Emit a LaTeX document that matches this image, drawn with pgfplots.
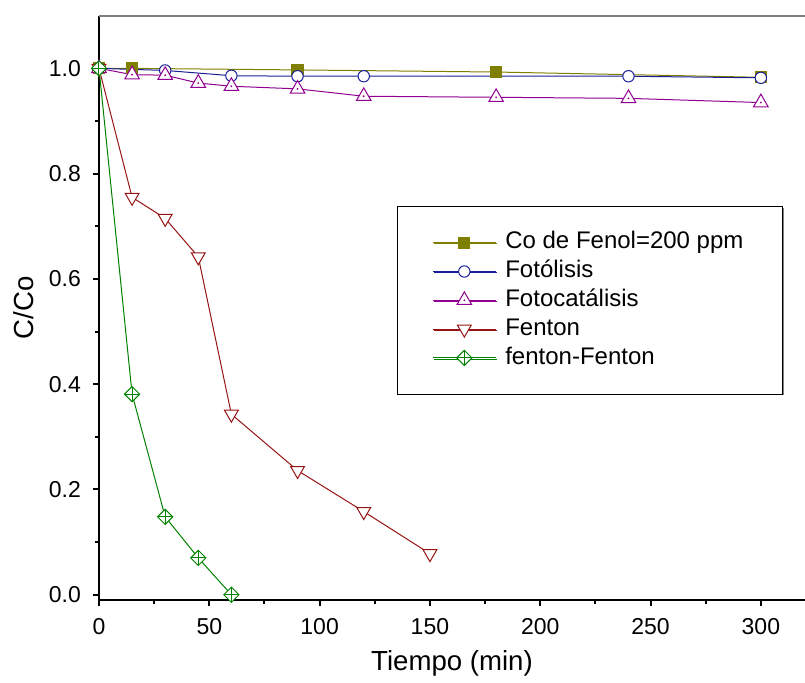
\documentclass[border=0pt]{standalone}
\usepackage{pgfplots}
\pgfplotsset{compat=1.18}
\usepackage{fontspec}
\setmainfont{Liberation Sans}
\usetikzlibrary{shadows}

\definecolor{cOlive}{RGB}{128,128,0}
\definecolor{cNavy}{RGB}{25,30,150}
\definecolor{cPurp}{RGB}{145,0,145}
\definecolor{cRed}{RGB}{150,20,20}
\definecolor{cGreen}{RGB}{0,130,0}

% diamond with a cross inside
\pgfdeclareplotmark{dplus}{%
  \pgfpathmoveto{\pgfqpoint{0pt}{\pgfplotmarksize}}%
  \pgfpathlineto{\pgfqpoint{\pgfplotmarksize}{0pt}}%
  \pgfpathlineto{\pgfqpoint{0pt}{-\pgfplotmarksize}}%
  \pgfpathlineto{\pgfqpoint{-\pgfplotmarksize}{0pt}}%
  \pgfpathclose
  \pgfusepathqfillstroke
  \pgfpathmoveto{\pgfqpoint{0pt}{\pgfplotmarksize}}%
  \pgfpathlineto{\pgfqpoint{0pt}{-\pgfplotmarksize}}%
  \pgfpathmoveto{\pgfqpoint{\pgfplotmarksize}{0pt}}%
  \pgfpathlineto{\pgfqpoint{-\pgfplotmarksize}{0pt}}%
  \pgfusepathqstroke
}
% triangle with a dot in the middle
\pgfdeclareplotmark{tridot}{%
  \pgfpathmoveto{\pgfqpoint{0pt}{\pgfplotmarksize}}%
  \pgfpathlineto{\pgfqpoint{-.866\pgfplotmarksize}{-.5\pgfplotmarksize}}%
  \pgfpathlineto{\pgfqpoint{.866\pgfplotmarksize}{-.5\pgfplotmarksize}}%
  \pgfpathclose
  \pgfusepathqfillstroke
  \pgfpathcircle{\pgfpointorigin}{0.15pt}%
  \pgfusepathqstroke
}

\begin{document}
\begin{tikzpicture}
\begin{axis}[
  scale only axis,
  width=353pt, height=292.15pt,
  xmin=0, xmax=320, ymin=-0.01, ymax=1.1,
  axis lines=left,
  axis line style={-, line width=1pt},
  clip=false,
  xtick={0,50,...,300},
  ytick={0,0.2,...,1.0},
  minor x tick num=1,
  minor y tick num=1,
  tick align=outside,
  major tick length=3pt,
  minor tick length=2pt,
  every tick/.style={black, line width=1pt},
  tick label style={font=\fontsize{11.5}{13}\selectfont},
  xticklabel style={yshift=-2.5pt},
  yticklabel style={xshift=-2.5pt},
  /pgf/number format/assume math mode=true,
  yticklabel style={/pgf/number format/.cd, fixed, fixed zerofill, precision=1},
  xlabel={Tiempo (min)},
  ylabel={C/Co},
  label style={font=\fontsize{13.8}{16}\selectfont},
  xlabel style={at={(axis description cs:0.5,-0.1078)}, anchor=center},
  ylabel style={at={(axis description cs:-0.1062,0.5)}, anchor=center},
  legend style={
    at={(rel axis cs:0.422,0.674)}, anchor=north west,
    draw=black, fill=white,
    drop shadow={shadow xshift=0.6pt, shadow yshift=-0.6pt, fill=gray, opacity=1},
    inner xsep=17.5pt, inner ysep=12.5pt,
    row sep=3.3pt,
    font=\fontsize{12}{14}\selectfont,
    nodes={inner ysep=0pt, text height=8.7pt, text depth=2.4pt},
  },
  legend cell align=left,
  legend image code/.code={%
    \draw[mark repeat=2, mark phase=2] plot coordinates {(0pt,0pt) (15.75pt,0pt) (31.5pt,0pt)};
    \path (34pt,0pt);},
  every axis plot/.append style={line width=0.5pt},
]
\addplot[cOlive, mark=square*, mark size=2.8pt, mark options={fill=cOlive}]
  coordinates {(0,1.0) (15,1.0) (90,0.997) (180,0.993) (300,0.983)};
\addlegendentry{Co de Fenol=200 ppm}

\addplot[cNavy, mark=*, mark size=2.85pt, mark options={fill=white}]
  coordinates {(0,1.0) (30,0.996) (60,0.986) (90,0.985) (120,0.985) (240,0.985) (300,0.982)};
\addlegendentry{Fotólisis}

\addplot[cPurp, mark=tridot, mark size=4.2pt, mark options={fill=white}]
  coordinates {(0,1.0) (15,0.988) (30,0.987) (45,0.972) (60,0.966) (90,0.961) (120,0.947) (180,0.945) (240,0.943) (300,0.935)};
\addlegendentry{Fotocatálisis}

\addplot[cRed, mark=triangle*, mark size=4pt, mark options={fill=white, rotate=180}]
  coordinates {(0,1.0) (15,0.755) (30,0.715) (45,0.642) (60,0.343) (90,0.236) (120,0.158) (150,0.078)};
\addlegendentry{Fenton}

\addplot[cGreen, mark=dplus, mark size=3.8pt, mark options={fill=white}]
  coordinates {(0,1.0) (15,0.381) (30,0.148) (45,0.070) (60,0.0)};
\addlegendentry{fenton-Fenton}

\draw[gray, line width=1pt] (rel axis cs:0,1) -- (rel axis cs:1,1);
\end{axis}
\pgfresetboundingbox
\path (-49.5pt,-41pt) rectangle (353pt,300pt);
\end{tikzpicture}
\end{document}
